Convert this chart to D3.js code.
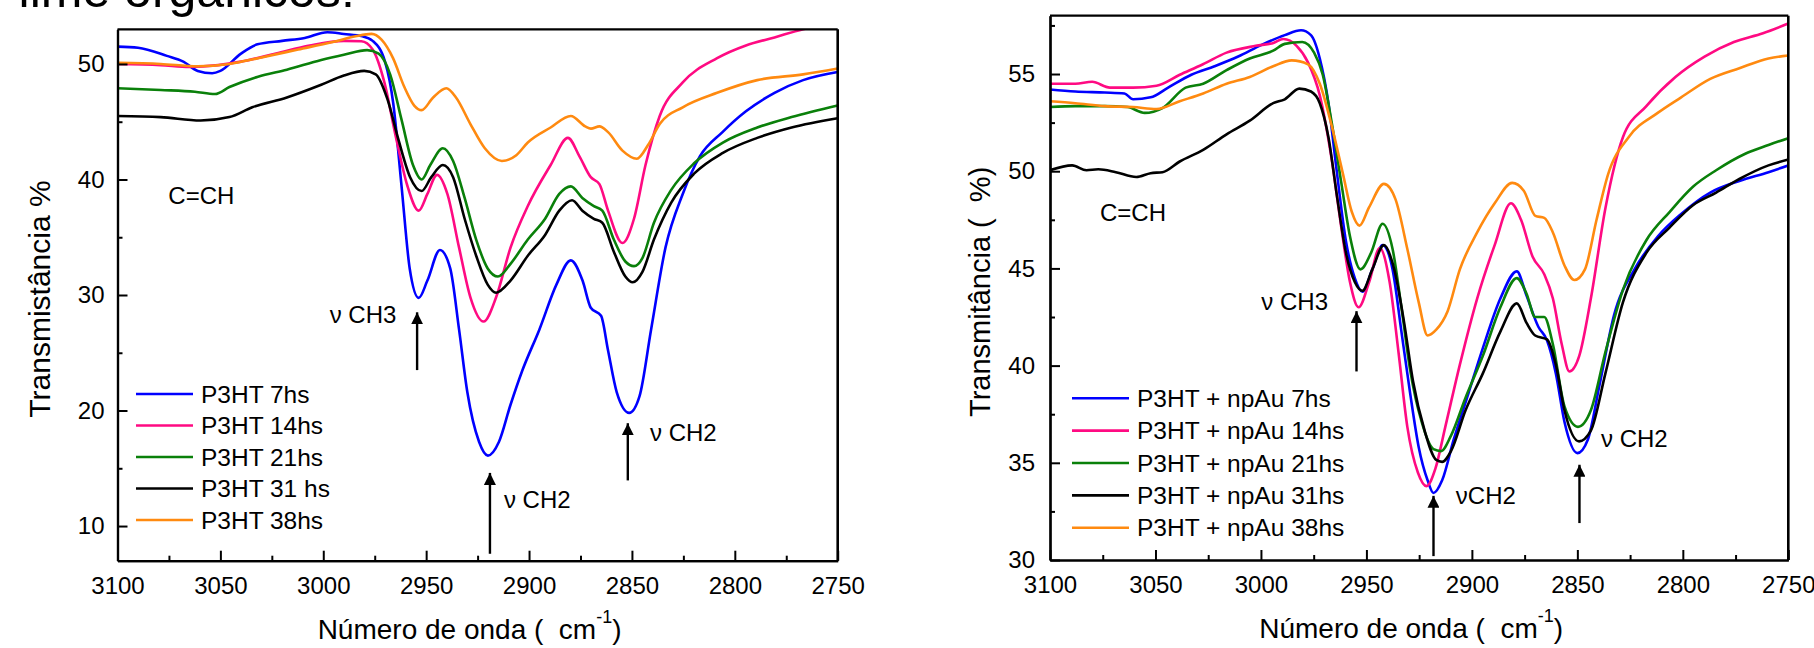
<!DOCTYPE html>
<html><head><meta charset="utf-8">
<script src="https://cdn.jsdelivr.net/npm/d3@7"></script>
<style>
body{margin:0;background:#fff;}
svg{display:block;font-family:"Liberation Sans",Arial,sans-serif;}
</style>
</head><body>
<svg id="chart" width="1814" height="648"></svg>
<script>
// ---------- data ----------
const xTicks = [3100, 3050, 3000, 2950, 2900, 2850, 2800, 2750];
const leftYTicks = [10, 20, 30, 40, 50];
const rightYTicks = [30, 35, 40, 45, 50, 55];
const leftNames = ["P3HT 7hs", "P3HT 14hs", "P3HT 21hs", "P3HT 31 hs", "P3HT 38hs"];
const rightNames = ["P3HT + npAu 7hs", "P3HT + npAu 14hs", "P3HT + npAu 21hs", "P3HT + npAu 31hs", "P3HT + npAu 38hs"];
const seriesColors = ["#0000ff", "#ff0a82", "#0a800a", "#000000", "#ff8a10"];

const left7 = [[3100,51.5],[3090,51.4],[3076,50.7],[3068,50.2],[3061,49.4],[3054,49.2],[3050,49.4],[3040,50.9],[3032,51.7],[3020,52.0],[3009,52.25],[2998,52.75],[2990,52.6],[2981,52.4],[2976,52.0],[2970,50.2],[2966,46.6],[2962,39.5],[2958,32.3],[2953.6,29.75],[2949.4,31.25],[2943.3,33.9],[2938.3,32.3],[2934,27.0],[2930,21.6],[2924.3,17.3],[2920,16.1],[2914.6,17.3],[2909,20.5],[2903.4,23.4],[2895,27.0],[2886.7,30.9],[2879.7,33.0],[2874,31.25],[2870,28.9],[2865,28.2],[2861.6,25.2],[2857.4,21.6],[2851.3,19.8],[2846.3,21.25],[2840.7,27.0],[2833.7,34.1],[2825.3,38.75],[2817,42.0],[2806,44.1],[2794.6,45.9],[2780.7,47.5],[2766.8,48.6],[2750,49.3]];
const left14 = [[3100,50.0],[3079,49.9],[3065,49.75],[3051,49.9],[3040,50.2],[3023,50.9],[3006.6,51.6],[2990,52.0],[2981.5,51.96],[2976,51.25],[2970.3,48.4],[2964.8,43.75],[2959.2,39.5],[2953.6,37.3],[2949.4,38.75],[2944.7,40.4],[2939.7,38.75],[2934,34.1],[2928.5,29.8],[2922.1,27.7],[2916,29.8],[2909,34.1],[2900.6,37.7],[2889.5,41.25],[2881.1,43.6],[2875.5,42.0],[2870,40.2],[2865.8,39.6],[2861.6,37.3],[2854.6,34.5],[2849,36.6],[2843.4,41.25],[2836.5,45.5],[2825.3,48.4],[2808.6,50.5],[2794.6,51.6],[2780.7,52.3],[2766.8,53.0],[2750,53.6]];
const left21 = [[3100,47.9],[3079,47.75],[3062.4,47.6],[3052.6,47.4],[3045.6,48.0],[3031.7,48.9],[3017.7,49.5],[3001,50.35],[2990,50.8],[2978.7,51.2],[2973.1,50.9],[2967.5,49.1],[2962,45.2],[2956.4,41.25],[2952.2,40.0],[2948,41.25],[2941.9,42.7],[2936.9,41.6],[2931.3,38.4],[2925.7,34.8],[2920.1,32.3],[2915.1,31.6],[2909,32.7],[2900.6,34.8],[2892.2,36.6],[2885.3,38.75],[2879.7,39.4],[2874.1,38.4],[2868.5,37.7],[2864.4,37.3],[2858.8,34.8],[2853.2,32.9],[2849,32.5],[2844.9,33.2],[2839.3,36.25],[2830.9,39.1],[2819.8,41.4],[2805.8,43.2],[2789.1,44.5],[2772.4,45.4],[2750,46.4]];
const left31 = [[3100,45.5],[3079,45.4],[3059.6,45.1],[3045.6,45.4],[3034.5,46.25],[3017.7,47.1],[3001,48.2],[2990,49.0],[2980.1,49.4],[2974.5,49.1],[2968.9,47.0],[2963.4,43.4],[2957.8,40.2],[2952.2,39.0],[2947.5,40.2],[2941.9,41.25],[2936.9,40.2],[2931.3,36.6],[2925.7,33.4],[2920.1,30.9],[2916,30.2],[2909,31.25],[2900.6,33.4],[2892.2,35.2],[2885.3,37.3],[2879.1,38.2],[2874.1,37.3],[2868.5,36.6],[2864.4,36.25],[2858.8,33.75],[2853.2,31.6],[2849.6,31.1],[2844.9,32.0],[2839.3,34.8],[2830.9,38.0],[2819.8,40.5],[2805.8,42.3],[2789.1,43.6],[2772.4,44.5],[2750,45.3]];
const left38 = [[3100,50.1],[3079,50.0],[3061,49.8],[3045.6,50.0],[3031.7,50.5],[3012.2,51.25],[2995.4,51.9],[2984.3,52.4],[2976.5,52.6],[2971.7,52.1],[2966.1,50.5],[2960.6,48.0],[2955.8,46.4],[2952.2,46.0],[2946.6,47.1],[2940.2,47.9],[2935.5,47.1],[2928.5,44.8],[2921.5,42.7],[2913.2,41.6],[2906.2,42.1],[2900.6,43.2],[2889.5,44.5],[2879.7,45.5],[2872.7,44.6],[2869.9,44.4],[2865.8,44.6],[2861.6,44.1],[2854.6,42.5],[2847.6,41.8],[2842.1,43.0],[2836.5,44.8],[2825.3,46.25],[2808.6,47.5],[2789.1,48.6],[2766.8,49.1],[2750,49.6]];

const right7 = [[3100,54.2],[3088,54.1],[3074,54.05],[3064.7,54.0],[3060.6,53.7],[3052.3,53.8],[3044,54.3],[3033,54.96],[3022,55.4],[3010.8,55.9],[2999.7,56.5],[2988.7,57.0],[2981,57.25],[2976.3,57.0],[2972.1,55.8],[2968,53.5],[2964.4,50.3],[2959.7,46.4],[2955.5,44.5],[2951.9,43.8],[2947.2,44.95],[2942.3,46.2],[2937.6,44.95],[2933.4,41.75],[2929.3,38.6],[2925.2,35.8],[2921,34.1],[2918.2,33.45],[2914.1,34.1],[2908.6,36.2],[2901.7,38.55],[2894.8,40.9],[2886.5,43.45],[2878.7,44.85],[2874.1,43.6],[2868.5,42.0],[2864.4,41.3],[2860.2,39.6],[2856.1,37.1],[2850,35.5],[2845,36.2],[2839.5,39.0],[2832.6,42.6],[2822.9,44.95],[2811.8,46.65],[2800.8,47.8],[2787,48.9],[2773.2,49.5],[2759.4,49.95],[2750,50.3]];
const right14 = [[3100,54.5],[3088,54.5],[3080,54.6],[3071.6,54.3],[3060.6,54.3],[3049.5,54.4],[3038.5,54.96],[3027.5,55.5],[3016.3,56.1],[3002.5,56.45],[2994.1,56.6],[2989.4,56.8],[2983.1,56.45],[2977.7,55.6],[2972.1,53.9],[2966.6,50.7],[2961.9,47.1],[2957.8,44.3],[2953.7,43.0],[2948.7,44.3],[2943.7,46.05],[2939,44.3],[2934.8,40.7],[2930.6,36.85],[2925.6,34.5],[2921.5,33.8],[2917.3,34.7],[2912.6,36.85],[2905.7,40.05],[2897.5,43.45],[2889.2,46.2],[2881.5,48.35],[2876.7,47.5],[2871.2,45.6],[2865.7,44.7],[2861.6,43.45],[2857.4,41.1],[2853.8,39.7],[2849.1,40.5],[2843.6,43.45],[2836.7,48.1],[2828.4,51.75],[2817.3,53.35],[2803.5,54.85],[2789.7,55.9],[2775.8,56.65],[2762,57.1],[2750,57.6]];
const right21 = [[3100,53.3],[3088,53.35],[3074,53.35],[3063.3,53.3],[3055.1,53.0],[3046.7,53.25],[3035.7,54.3],[3027.4,54.5],[3016.3,55.2],[3005.3,55.8],[2994.2,56.2],[2988.7,56.55],[2980.4,56.65],[2974.8,56.1],[2970.7,54.96],[2966.6,52.6],[2961.9,49.4],[2957.8,46.65],[2952.8,44.95],[2947.8,45.8],[2942.3,47.3],[2937.6,46.0],[2933.4,43.0],[2929.3,39.8],[2923.8,37.1],[2918.2,35.7],[2914.6,35.6],[2909.9,36.4],[2903,38.35],[2894.8,40.5],[2886.5,43.0],[2878.7,44.5],[2874.1,43.7],[2870,42.5],[2865.7,42.5],[2861.6,41.1],[2856.1,37.9],[2849.7,36.85],[2843.6,37.7],[2836.7,40.7],[2828.4,43.9],[2817.3,46.45],[2806.3,47.9],[2795.2,49.2],[2784.2,50.05],[2770.4,50.9],[2759.4,51.35],[2750,51.7]];
const right31 = [[3100,50.05],[3089.5,50.3],[3082.7,50.05],[3077.1,50.1],[3068.8,49.95],[3059.1,49.7],[3052.3,49.9],[3046.7,49.95],[3038.5,50.5],[3027.4,51.1],[3016.3,51.9],[3005.3,52.6],[2994.2,53.5],[2988.7,53.7],[2981.8,54.25],[2976.3,54.1],[2972.1,53.5],[2968,51.75],[2963.8,48.6],[2959.7,45.8],[2955.5,44.3],[2951.9,43.85],[2947.2,44.95],[2941.7,46.2],[2936.8,44.95],[2932.1,42.2],[2927.9,39.2],[2922.4,36.65],[2916.9,35.15],[2914.1,35.05],[2909.9,35.6],[2903,37.7],[2894.8,39.6],[2886.5,41.75],[2878.7,43.2],[2874.1,42.2],[2870,41.55],[2864.4,41.35],[2860.2,40.05],[2856.1,37.7],[2849.2,36.1],[2843.6,36.65],[2836.7,39.6],[2828.4,43.25],[2817.3,45.8],[2806.3,47.1],[2795.2,48.25],[2784.2,48.9],[2773.2,49.6],[2759.4,50.3],[2750,50.6]];
const right38 = [[3100,53.6],[3088,53.5],[3074,53.35],[3060.6,53.3],[3049.5,53.2],[3038.5,53.6],[3027.4,54.0],[3016.3,54.5],[3005.3,54.85],[2994.2,55.4],[2985.4,55.7],[2977.7,55.5],[2972.1,54.5],[2966.6,52.4],[2961.1,49.85],[2956.9,47.9],[2953.3,47.2],[2948.7,48.15],[2941.7,49.35],[2936.2,48.55],[2930.6,46.0],[2925.2,43.25],[2921,41.55],[2916.9,41.85],[2911.5,42.8],[2905.7,44.95],[2897.5,46.85],[2889.2,48.35],[2880.9,49.4],[2875.4,49.0],[2869.9,47.7],[2865.7,47.6],[2861.6,46.85],[2856.1,45.15],[2851.4,44.4],[2846.4,44.95],[2840.9,47.5],[2835.4,49.85],[2825.7,51.75],[2811.9,53.0],[2800.8,53.8],[2787,54.75],[2773.2,55.3],[2759.4,55.8],[2750,55.95]];

// annotations: [wavenumber, transmittance]
const leftArrows = [{w:2954.4, from:23.5, to:28.5}, {w:2919, from:7.6, to:14.6}, {w:2852, from:13.95, to:18.9}];
const leftLabels = [{w:2996.9, t:27.6, text:"ν CH3"}, {w:2912.2, t:11.6, text:"ν CH2"}, {w:2841.2, t:17.4, text:"ν CH2"}, {w:3075.3, t:37.9, text:"C=CH"}];
const rightArrows = [{w:2954.7, from:39.7, to:42.8}, {w:2918.2, from:30.2, to:33.3}, {w:2849, from:31.9, to:34.9}];
const rightLabels = [{w:2999.8, t:42.86, text:"ν CH3"}, {w:2907.6, t:32.9, text:"νCH2"}, {w:2838.8, t:35.8, text:"ν CH2"}, {w:3076.3, t:47.44, text:"C=CH"}];

// ---------- drawing ----------
const svg = d3.select("#chart");
const defs = svg.append("defs");
defs.append("marker").attr("id","arrowhead").attr("viewBox","0 0 10 10")
  .attr("refX",10).attr("refY",5).attr("markerWidth",5).attr("markerHeight",5)
  .attr("markerUnits","strokeWidth").attr("orient","auto")
  .append("path").attr("d","M0,0 L10,5 L0,10 z").attr("fill","#000");

// cut-off slide title at the very top (only its lower part is visible, as in the source)
svg.append("text").attr("x", -12).attr("y", 7).attr("font-size", 50).attr("fill","#000")
  .text("Filme orgânicos:");

function panel(cfg) {
  const x = d3.scaleLinear().domain([3100, 2750]).range([cfg.x0, cfg.x1]);
  const y = d3.scaleLinear().domain(cfg.yDomain).range([cfg.y1, cfg.y0]);
  const g = svg.append("g");
  const clipId = "clip" + cfg.id;
  defs.append("clipPath").attr("id", clipId).append("rect")
    .attr("x", cfg.x0).attr("y", cfg.y0).attr("width", cfg.x1 - cfg.x0).attr("height", cfg.y1 - cfg.y0);

  const line = d3.line().x(d => x(d[0])).y(d => y(d[1])).curve(d3.curveMonotoneX);
  const lg = g.append("g").attr("clip-path", `url(#${clipId})`);
  cfg.series.forEach((s, i) => {
    lg.append("path").datum(s).attr("d", line).attr("fill","none")
      .attr("stroke", seriesColors[i]).attr("stroke-width", 2.6).attr("stroke-linejoin","round");
  });

  // minor ticks
  const minorX = d3.range(3100, 2749, -25).filter(v => !xTicks.includes(v));
  const minorY = d3.range(cfg.yDomain[0], cfg.yDomain[1] + 0.01, 0.5)
      .filter(v => Math.abs((v / cfg.minorStep) - Math.round(v / cfg.minorStep)) < 1e-6)
      .filter(v => !cfg.yTicks.includes(v));

  g.append("g").attr("transform", `translate(0,${cfg.y1})`)
    .call(d3.axisBottom(x).tickValues(xTicks).tickFormat(d3.format("d")).tickSize(-10).tickSizeOuter(0).tickPadding(16));
  g.append("g").attr("transform", `translate(0,${cfg.y1})`)
    .call(d3.axisBottom(x).tickValues(minorX).tickFormat("").tickSize(-5).tickSizeOuter(0));
  g.append("g").attr("transform", `translate(${cfg.x0},0)`)
    .call(d3.axisLeft(y).tickValues(cfg.yTicks).tickFormat(d3.format("d")).tickSize(-10).tickSizeOuter(0).tickPadding(cfg.yPad));
  g.append("g").attr("transform", `translate(${cfg.x0},0)`)
    .call(d3.axisLeft(y).tickValues(minorY).tickFormat("").tickSize(-5).tickSizeOuter(0));
  g.selectAll(".domain").attr("stroke-width", 2.2);
  g.selectAll(".tick line").attr("stroke-width", 2);
  g.selectAll(".tick text").attr("font-size", 24).attr("font-family", "'Liberation Sans', Arial, sans-serif").attr("fill","#000");
  // top & right frame
  g.append("line").attr("x1", cfg.x0).attr("x2", cfg.x1).attr("y1", cfg.y0).attr("y2", cfg.y0).attr("stroke","#000").attr("stroke-width",2.2);
  g.append("line").attr("x1", cfg.x1).attr("x2", cfg.x1).attr("y1", cfg.y0).attr("y2", cfg.y1).attr("stroke","#000").attr("stroke-width",2.6);

  // axis titles
  const xt = g.append("text").attr("x", (cfg.x0 + cfg.x1) / 2 - 8).attr("y", cfg.y1 + 78)
    .attr("text-anchor","middle").attr("font-size", 28);
  xt.append("tspan").text("Número de onda (\u00a0\u00a0cm");
  xt.append("tspan").attr("dy", -16).attr("font-size", 18).text("-1");
  xt.append("tspan").attr("dy", 16).text(")");
  g.append("text").attr("transform", `translate(${cfg.ytX},${(cfg.y0 + cfg.y1) / 2 + 4}) rotate(-90)`)
    .attr("text-anchor","middle").attr("font-size", cfg.ytSize).text(cfg.yTitle);

  // legend
  cfg.names.forEach((n, i) => {
    const ly = cfg.legY + i * cfg.legStep;
    g.append("line").attr("x1", cfg.legX).attr("x2", cfg.legX + 57).attr("y1", ly).attr("y2", ly)
      .attr("stroke", seriesColors[i]).attr("stroke-width", 2.6);
    g.append("text").attr("x", cfg.legX + 65).attr("y", ly + 8.5).attr("font-size", 24.5).text(n);
  });

  // annotations
  cfg.arrows.forEach(a => {
    g.append("line").attr("x1", x(a.w)).attr("x2", x(a.w)).attr("y1", y(a.from)).attr("y2", y(a.to))
      .attr("stroke","#000").attr("stroke-width", 2.4).attr("marker-end","url(#arrowhead)");
  });
  cfg.labels.forEach(l => {
    g.append("text").attr("x", x(l.w)).attr("y", y(l.t)).attr("font-size", 24).text(l.text);
  });
}

panel({id:"L", x0:117.5, x1:837.7, y0:29.3, y1:560.7, yDomain:[7,53], yTicks:leftYTicks, minorStep:5, yPad:13,
  series:[left7,left14,left21,left31,left38], names:leftNames, legX:136, legY:394, legStep:31.5,
  yTitle:"Transmistância %", ytX:50, ytSize:30, arrows:leftArrows, labels:leftLabels});
panel({id:"R", x0:1050, x1:1788.3, y0:15.7, y1:560, yDomain:[30,58], yTicks:rightYTicks, minorStep:2.5, yPad:15,
  series:[right7,right14,right21,right31,right38], names:rightNames, legX:1072, legY:398.3, legStep:32.35,
  yTitle:"Transmitância (\u00a0\u00a0%)", ytX:990, ytSize:29, arrows:rightArrows, labels:rightLabels});
</script>
</body></html>
